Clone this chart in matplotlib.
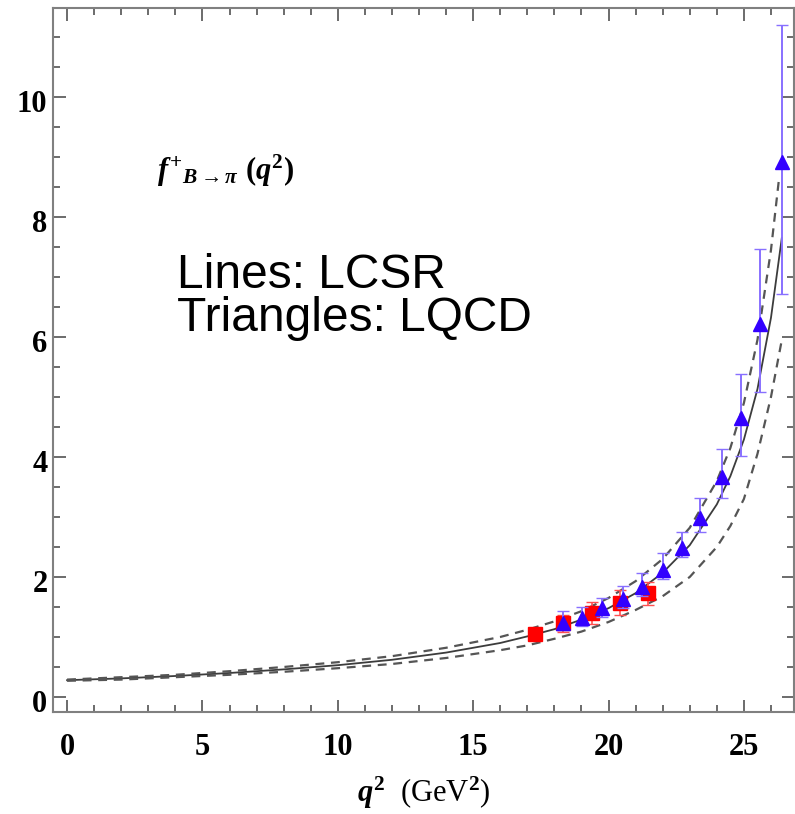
import matplotlib
matplotlib.use("Agg")
import matplotlib.pyplot as plt
from matplotlib.ticker import MultipleLocator
from matplotlib.transforms import ScaledTranslation

# LCSR curves (central, upper, lower)
q2_lcsr = [0, 2, 4, 6, 8, 10, 12, 14, 16, 17, 18, 19, 20, 21, 22, 23, 24, 24.5, 25, 25.5, 26, 26.4]
f_central = [0.28, 0.31, 0.35, 0.40, 0.46, 0.53, 0.62, 0.74, 0.90, 1.01, 1.13, 1.29, 1.48, 1.73,
             2.07, 2.53, 3.21, 3.68, 4.29, 5.13, 6.32, 7.65]
q2_upper = [0, 2, 4, 6, 8, 10, 12, 14, 16, 17, 18, 19, 20, 21, 22, 23, 24, 24.5, 25, 25.5, 26, 26.3]
f_upper = [0.29, 0.33, 0.37, 0.43, 0.50, 0.58, 0.68, 0.82, 1.00, 1.12, 1.26, 1.43, 1.65, 1.93,
           2.30, 2.82, 3.60, 4.15, 4.90, 5.95, 7.45, 8.65]
f_lower = [0.27, 0.29, 0.33, 0.37, 0.42, 0.48, 0.55, 0.65, 0.78, 0.86, 0.97, 1.09, 1.25, 1.45,
           1.68, 2.00, 2.50, 2.85, 3.30, 4.05, 5.00, 5.95]

# LQCD points (triangles)
q2_lqcd = [18.31, 19.01, 19.75, 20.53, 21.23, 22.00, 22.71, 23.37, 24.18, 24.88, 25.59, 26.40]
f_lqcd = [1.23, 1.32, 1.48, 1.63, 1.83, 2.12, 2.48, 2.98, 3.67, 4.65, 6.22, 8.92]
err_lqcd_lo = [0.12, 0.13, 0.14, 0.15, 0.15, 0.15, 0.15, 0.23, 0.35, 0.63, 1.14, 2.20]
err_lqcd_hi = [0.20, 0.18, 0.17, 0.22, 0.24, 0.28, 0.27, 0.34, 0.46, 0.73, 1.25, 2.28]

# other lattice points (squares)
q2_sq = [17.28, 18.31, 19.38, 20.42, 21.45]
f_sq = [1.05, 1.23, 1.40, 1.57, 1.73]
err_sq = [0.05, 0.14, 0.18, 0.21, 0.19]

plt.rcParams["font.family"] = "Liberation Serif"
plt.rcParams["font.weight"] = "bold"
plt.rcParams["mathtext.fontset"] = "custom"
plt.rcParams["mathtext.rm"] = "Liberation Serif:bold"
plt.rcParams["mathtext.it"] = "Liberation Serif:italic:bold"
plt.rcParams["mathtext.bf"] = "Liberation Serif:bold"

fig = plt.figure(figsize=(7.95, 8.14), dpi=100)
ax = fig.add_axes([53 / 795, 1 - 712 / 814, (794 - 53) / 795, (712 - 8) / 814])

ax.plot(q2_lcsr, f_central, color="#3c3c3c", lw=1.3)
ax.plot(q2_upper, f_upper, color="#555555", lw=1.6, dashes=(4, 3))
ax.plot(q2_lcsr, f_lower, color="#555555", lw=1.6, dashes=(4, 3))

ax.errorbar(q2_sq, f_sq, yerr=err_sq, fmt="s", color="#ff0000", ms=10,
            ecolor="#ff5050", elinewidth=1.2, capsize=4, zorder=3)
ax.errorbar(q2_lqcd, f_lqcd, yerr=[err_lqcd_lo, err_lqcd_hi], fmt="^", color="#3300ff",
            ms=10, ecolor="#8870ff", elinewidth=1.4, capsize=4, zorder=4)

ax.set_xlim(-0.52, 26.85)
ax.set_ylim(-0.25, 11.48)
ax.xaxis.set_major_locator(MultipleLocator(5))
ax.xaxis.set_minor_locator(MultipleLocator(1))
ax.yaxis.set_major_locator(MultipleLocator(2))
ax.yaxis.set_minor_locator(MultipleLocator(0.5))
ax.tick_params(which="both", direction="in", top=True, right=True, color="#444444",
               labelsize=22, width=1.1)
ax.tick_params(which="major", length=9)
ax.tick_params(which="minor", length=5)
ax.tick_params(axis="y", pad=4)
ax.tick_params(axis="x", pad=15)
for s in ax.spines.values():
    s.set_color("#808080")
    s.set_linewidth(1.5)

# y labels sit a few pixels below their ticks in the original
shift = ScaledTranslation(0, -0.04, fig.dpi_scale_trans)
for lab in ax.get_yticklabels():
    lab.set_transform(lab.get_transform() + shift)

ax.set_xlabel(r"$q^{2}$  (GeV$^{2}$)", fontsize=22, labelpad=9)

ax.text(3.31, 8.62, r"$f^{+}{}_{B\rightarrow\pi}\ (q^{2})$", fontsize=22, ha="left", va="baseline")
ax.text(4.05, 6.82, "Lines: LCSR", fontsize=34.5, family="Liberation Sans", fontweight="normal",
        ha="left", va="baseline")
ax.text(4.05, 6.10, "Triangles: LQCD", fontsize=34.5, family="Liberation Sans", fontweight="normal",
        ha="left", va="baseline")

fig.savefig("out.png", dpi=100)
